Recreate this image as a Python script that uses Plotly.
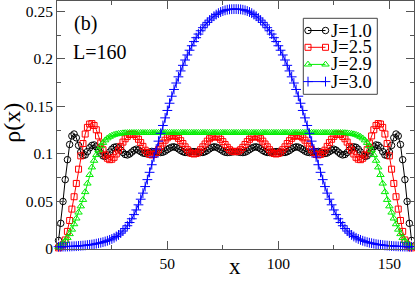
import plotly.graph_objects as go

# lattice sites
sites = list(range(1, 161))

rho_J10 = [
    .009, .027, .050, .073, .094, .110, .119, .121, .117, .109,
    .102, .0985, .099, .1025, .1065, .109, .1095, .1075, .104, .1005,
    .098, .0975, .099, .102, .105, .107, .1075, .1065, .104, .1015,
    .0995, .099, .100, .102, .104, .105, .104, .1025, .101, .1005,
    .101, .102, .1027, .1025, .1021, .1017, .1015, .1019, .103, .1046,
    .1061, .1072, .1075, .1068, .1054, .1037, .1024, .1016, .1015, .1019,
    .1026, .1025, .1023, .1019, .1015, .1016, .1024, .1037, .1054, .1068,
    .1075, .1072, .1061, .1046, .103, .1019, .1015, .1017, .1021, .1025,
    .1025, .1021, .1017, .1015, .1019, .103, .1046, .1061, .1072, .1075,
    .1068, .1054, .1037, .1024, .1016, .1015, .1019, .1023, .1025, .1026,
    .1019, .1015, .1016, .1024, .1037, .1054, .1068, .1075, .1072, .1061,
    .1046, .103, .1019, .1015, .1017, .1021, .1025, .1027, .102, .101,
    .1005, .101, .1025, .104, .105, .104, .102, .100, .099, .0995,
    .1015, .104, .1065, .1075, .107, .105, .102, .099, .0975, .098,
    .1005, .104, .1075, .1095, .109, .1065, .1025, .099, .0985, .102,
    .109, .117, .121, .119, .110, .094, .073, .050, .027, .009,
]

rho_J25 = [
    .0012, .0025, .0045, .0095, .0185, .030, .042, .055, .069, .084,
    .098, .111, .121, .128, .1315, .132, .130, .1255, .119, .1115,
    .1045, .099, .0955, .094, .0945, .0965, .100, .104, .108, .1125,
    .116, .1185, .1205, .121, .1205, .1185, .1155, .112, .108, .104,
    .1015, .0995, .099, .0995, .1015, .1045, .108, .1115, .1145, .117,
    .1185, .1195, .1195, .1185, .1165, .114, .111, .1075, .1045, .102,
    .1005, .100, .1005, .102, .1045, .1075, .1105, .1135, .116, .1175,
    .1185, .1185, .1175, .1155, .113, .110, .107, .1045, .103, .1025,
    .1025, .103, .1045, .107, .110, .113, .1155, .1175, .1185, .1185,
    .1175, .116, .1135, .1105, .1075, .1045, .102, .1005, .100, .1005,
    .102, .1045, .1075, .111, .114, .1165, .1185, .1195, .1195, .1185,
    .117, .1145, .1115, .108, .1045, .1015, .0995, .099, .0995, .1015,
    .104, .108, .112, .1155, .1185, .1205, .121, .1205, .1185, .116,
    .1125, .108, .104, .100, .0965, .0945, .094, .0955, .099, .1045,
    .1115, .119, .1255, .130, .132, .1315, .128, .121, .111, .098,
    .084, .069, .055, .042, .030, .0185, .0095, .0045, .0025, .0012,
]

rho_J29 = [
    .002, .004, .006, .0085, .0118, .0158, .0205, .0262, .0322, .0385,
    .045, .0518, .060, .069, .078, .086, .093, .099, .104, .1083,
    .1118, .1145, .1166, .1182, .1194, .1203, .1209, .1214, .1217, .122,
    .1222, .1223, .1224, .1224, .1224, .1224, .1224, .1224, .1224, .1224,
    .1224, .1224, .1224, .1224, .1225, .1225, .1225, .1225, .1225, .1225,
    .1225, .1225, .1225, .1225, .1225, .1225, .1225, .1225, .1225, .1225,
    .1225, .1225, .1225, .1225, .1225, .1225, .1225, .1225, .1225, .1225,
    .1225, .1225, .1225, .1225, .1225, .1225, .1225, .1225, .1225, .1225,
    .1225, .1225, .1225, .1225, .1225, .1225, .1225, .1225, .1225, .1225,
    .1225, .1225, .1225, .1225, .1225, .1225, .1225, .1225, .1225, .1225,
    .1225, .1225, .1225, .1225, .1225, .1225, .1225, .1225, .1225, .1225,
    .1225, .1225, .1225, .1225, .1225, .1225, .1224, .1224, .1224, .1224,
    .1224, .1224, .1224, .1224, .1224, .1224, .1224, .1224, .1223, .1222,
    .122, .1217, .1214, .1209, .1203, .1194, .1182, .1166, .1145, .1118,
    .1083, .104, .099, .093, .086, .078, .069, .060, .0518, .045,
    .0385, .0322, .0262, .0205, .0158, .0118, .0085, .006, .004, .002,
]

rho_J30 = [
    .0024, .0024, .0025, .0025, .0026, .0027, .0028, .0029, .0030, .0032,
    .0034, .0036, .0038, .0041, .0044, .0047, .0051, .0056, .0061, .0066,
    .0072, .0079, .0087, .0096, .0106, .0118, .0132, .0148, .0167, .0189,
    .0215, .0245, .0279, .0318, .0362, .0411, .0465, .0524, .0588, .0657,
    .0730, .0807, .0887, .0969, .1052, .1135, .1218, .1300, .1380, .1458,
    .1534, .1608, .1679, .1747, .1812, .1874, .1933, .1989, .2042, .2092,
    .2139, .2183, .2224, .2262, .2297, .2329, .2358, .2385, .2409, .2431,
    .2450, .2467, .2482, .2494, .2504, .2512, .2518, .2522, .2524, .2525,
    .2525, .2524, .2522, .2518, .2512, .2504, .2494, .2482, .2467, .2450,
    .2431, .2409, .2385, .2358, .2329, .2297, .2262, .2224, .2183, .2139,
    .2092, .2042, .1989, .1933, .1874, .1812, .1747, .1679, .1608, .1534,
    .1458, .1380, .1300, .1218, .1135, .1052, .0969, .0887, .0807, .0730,
    .0657, .0588, .0524, .0465, .0411, .0362, .0318, .0279, .0245, .0215,
    .0189, .0167, .0148, .0132, .0118, .0106, .0096, .0087, .0079, .0072,
    .0066, .0061, .0056, .0051, .0047, .0044, .0041, .0038, .0036, .0034,
    .0032, .0030, .0029, .0028, .0027, .0026, .0025, .0025, .0024, .0024,
]

series_names = ["J=1.0", "J=2.5", "J=2.9", "J=3.0"]
series_values = [rho_J10, rho_J25, rho_J29, rho_J30]
for v in series_values:
    assert len(v) == len(sites), len(v)

styles = [
    dict(color="#000000", symbol="circle-open", size=6.5),
    dict(color="#ff0000", symbol="square-open", size=6),
    dict(color="#00ee00", symbol="triangle-up-open", size=6.5),
    dict(color="#0000ff", symbol="cross-thin-open", size=7),
]

x_ticks = [50, 100, 150]
y_ticks = [0, 0.05, 0.1, 0.15, 0.2, 0.25]
y_tick_labels = ["0", "0.05", "0.1", "0.15", "0.2", "0.25"]

FONT = "Liberation Serif, Times New Roman, DejaVu Serif, serif"
AX = "#555555"

fig = go.Figure()
for name, vals, st in zip(series_names, series_values, styles):
    fig.add_trace(go.Scatter(
        x=sites, y=vals, mode="lines+markers", name=name,
        line=dict(color=st["color"], width=1),
        marker=dict(symbol=st["symbol"], size=st["size"], color=st["color"],
                    line=dict(color=st["color"], width=1)),
        cliponaxis=False, showlegend=False,
    ))

# hand-built legend on a pixel-coordinate overlay axis
legend_rows = [30.5, 47.3, 64.4, 81.6]
for name, st, yy in zip(series_names, styles, legend_rows):
    fig.add_trace(go.Scatter(
        x=[308, 325.5], y=[yy, yy], xaxis="x2", yaxis="y2",
        mode="lines+markers", showlegend=False, hoverinfo="skip",
        line=dict(color=st["color"], width=1),
        marker=dict(symbol=st["symbol"], size=st["size"], color=st["color"],
                    line=dict(color=st["color"], width=1)),
        cliponaxis=False,
    ))
    fig.add_annotation(x=329, y=yy, xref="x2", yref="y2", text=name,
                       showarrow=False, xanchor="left", yanchor="middle",
                       font=dict(family=FONT, size=18.5, color="black"))

fig.add_shape(type="rect", xref="x2", yref="y2", x0=303.3, x1=377.3,
              y0=18.3, y1=94.3, line=dict(color="#444444", width=1),
              fillcolor="white", layer="below")

fig.add_annotation(x=72, y=23, xref="x2", yref="y2", text="(b)", showarrow=False,
                   xanchor="left", yanchor="middle",
                   font=dict(family=FONT, size=20, color="black"))
fig.add_annotation(x=71, y=52, xref="x2", yref="y2", text="L=160", showarrow=False,
                   xanchor="left", yanchor="middle",
                   font=dict(family=FONT, size=20, color="black"))

fig.add_annotation(x=0.499, y=-32 / 248, xref="paper", yref="paper", text="x",
                   showarrow=False, xanchor="center", yanchor="bottom",
                   font=dict(family=FONT, size=23, color="black"))
fig.add_annotation(x=-0.128, y=0.51, xref="paper", yref="paper", text="ρ(x)",
                   showarrow=False, xanchor="center", yanchor="middle", textangle=-90,
                   font=dict(family=FONT, size=24, color="black"))

fig.update_layout(
    width=415, height=281,
    margin=dict(l=57, r=1, t=1, b=32),
    paper_bgcolor="white", plot_bgcolor="white",
    showlegend=False,
    font=dict(family=FONT, color="black"),
    xaxis=dict(range=[0.3, 161.1], tickvals=x_ticks, ticks="inside", ticklen=8,
               tickcolor=AX, showline=True, linecolor=AX, linewidth=1,
               mirror="allticks", showgrid=False, zeroline=False,
               minor=dict(tickvals=[25, 75, 125], ticks="inside", ticklen=4, tickcolor=AX),
               tickfont=dict(family=FONT, size=15.5, color="black")),
    yaxis=dict(range=[0, 0.261], tickvals=y_ticks, ticktext=y_tick_labels,
               ticks="inside", ticklen=8, tickcolor=AX, showline=True,
               linecolor=AX, linewidth=1, mirror="allticks", showgrid=False,
               zeroline=False,
               minor=dict(tickvals=[0.025, 0.075, 0.125, 0.175, 0.225], ticks="inside",
                          ticklen=4, tickcolor=AX),
               tickfont=dict(family=FONT, size=15.5, color="black")),
    xaxis2=dict(range=[57, 414], overlaying="x", visible=False, fixedrange=True),
    yaxis2=dict(range=[249, 1], overlaying="y", visible=False, fixedrange=True),
)

fig.write_html("out.html", config={"displayModeBar": False},
               post_script="document.body.style.margin='0';document.body.style.padding='0';")
